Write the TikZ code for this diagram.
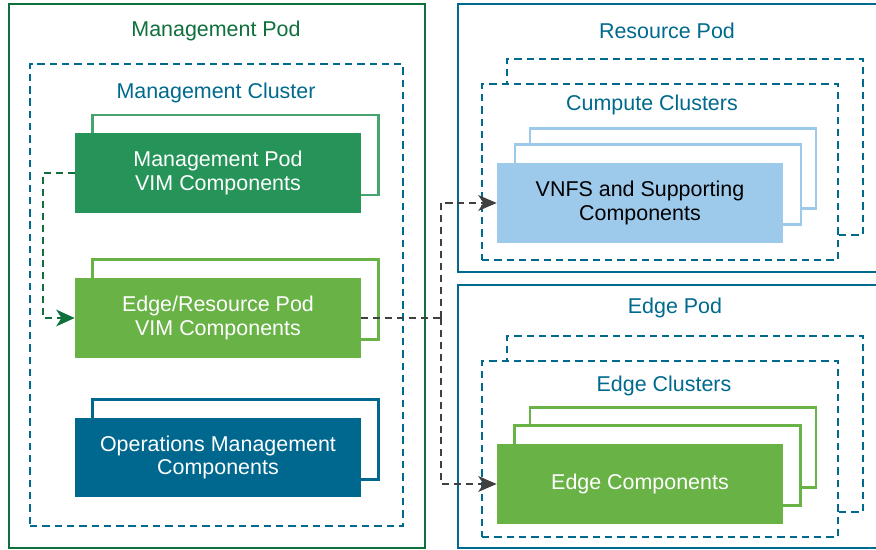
\documentclass[tikz,border=0pt]{standalone}
\usepackage{fontspec}
\setmainfont{Liberation Sans}
\usetikzlibrary{arrows.meta, positioning}
\definecolor{podgreen}{RGB}{16, 112, 60}
\definecolor{podblue}{RGB}{0, 106, 142}
\definecolor{mvimgreen}{RGB}{38, 148, 88}
\definecolor{edgegreen}{RGB}{104, 178, 70}
\definecolor{opsblue}{RGB}{0, 104, 143}
\definecolor{vnfsblue}{RGB}{157, 202, 235}
\definecolor{linkgray}{RGB}{64, 64, 64}

\begin{document}
\begin{tikzpicture}[x=0.02cm, y=-0.02cm,
        every node/.style={font=\fontsize{12.2}{13.6}\selectfont},
        pod/.style={rectangle, draw=podblue, line width=1.2pt, fill=white, inner sep=0pt},
        cluster/.style={rectangle, draw=podblue, line width=1.1pt, dash pattern=on 4.2pt off 2.8pt, fill=white, inner sep=0pt, minimum width=7.12cm, minimum height=3.52cm},
        title/.style={text=podblue},
        comp/.style={rectangle, text=white, align=center, inner sep=0pt, minimum width=5.72cm, minimum height=1.6cm},
        shade/.style={rectangle, line width=1.3pt, fill=white, inner sep=0pt, minimum width=5.72cm, minimum height=1.6cm},
        gconn/.style={draw=podgreen, line width=1.1pt, dash pattern=on 4pt off 2.8pt, -{Stealth[length=10.5pt, width=9.5pt, inset=3pt]}},
        conn/.style={draw=linkgray, line width=1.1pt, dash pattern=on 4pt off 2.8pt},
        arr/.style={-{Stealth[length=10.5pt, width=9pt, inset=3pt]}}
    ]
        \useasboundingbox (0,0) rectangle (876,550);

        % Management Pod
        \node[pod, draw=podgreen, minimum width=8.32cm, minimum height=10.88cm] (mpod) at (217,276) {};
        \node[title, text=podgreen] (mpodt) at (216,31) {Management Pod};
        \node[cluster, minimum width=7.46cm, minimum height=9.24cm] (mclus) at (216.5,295) {};
        \node[title] (mclust) at (216,93) {Management Cluster};

        \node[shade, draw=mvimgreen!85] (mvimb) at (235.5,155) {};
        \node[comp, fill=mvimgreen] (mvim) at (218,173) {Management Pod\\VIM Components};
        \node[shade, draw=edgegreen] (evimb) at (235.5,299.5) {};
        \node[comp, fill=edgegreen] (evim) at (218,318) {Edge/Resource Pod\\VIM Components};
        \node[shade, draw=opsblue] (opsb) at (235.5,439.5) {};
        \node[comp, fill=opsblue] (ops) at (218,457.5) {Operations Management\\Components};

        % Resource Pod
        \node[pod, minimum width=8.84cm, minimum height=5.36cm] (rpod) at (679,138) {};
        \node[title] (rpodt) at (667,31) {Resource Pod};
        \node[cluster] (rclusb) at (685,147) {};
        \node[cluster] (rclus) at (660,172) {};
        \node[title] (rclust) at (652,105) {Cumpute Clusters};
        \node[shade, draw=vnfsblue] (vnfsb) at (673,168.5) {};
        \node[shade, draw=vnfsblue] (vnfsm) at (658,184.5) {};
        \node[comp, fill=vnfsblue, text=black] (vnfs) at (640,203) {VNFS and Supporting\\Components};

        % Edge Pod
        \node[pod, minimum width=8.84cm, minimum height=5.26cm] (epod) at (679,416.5) {};
        \node[title] (epodt) at (675,308) {Edge Pod};
        \node[cluster] (eclusb) at (685,424) {};
        \node[cluster] (eclus) at (660,449) {};
        \node[title] (eclust) at (664,386) {Edge Clusters};
        \node[shade, draw=edgegreen] (edgecb) at (673,447.5) {};
        \node[shade, draw=edgegreen] (edgecm) at (657.5,465.5) {};
        \node[comp, fill=edgegreen] (edgec) at (640,484) {Edge Components};

        % Links
        \coordinate (split) at (441,318);
        \draw[gconn] (mvim.west) -- ++(-32,0) |- (evim.west);
        \draw[conn] (evim.east) -- (split);
        \draw[conn, arr] (split) |- (vnfs.west);
        \draw[conn, arr] (split) |- (edgec.west);
    \end{tikzpicture}
\end{document}
